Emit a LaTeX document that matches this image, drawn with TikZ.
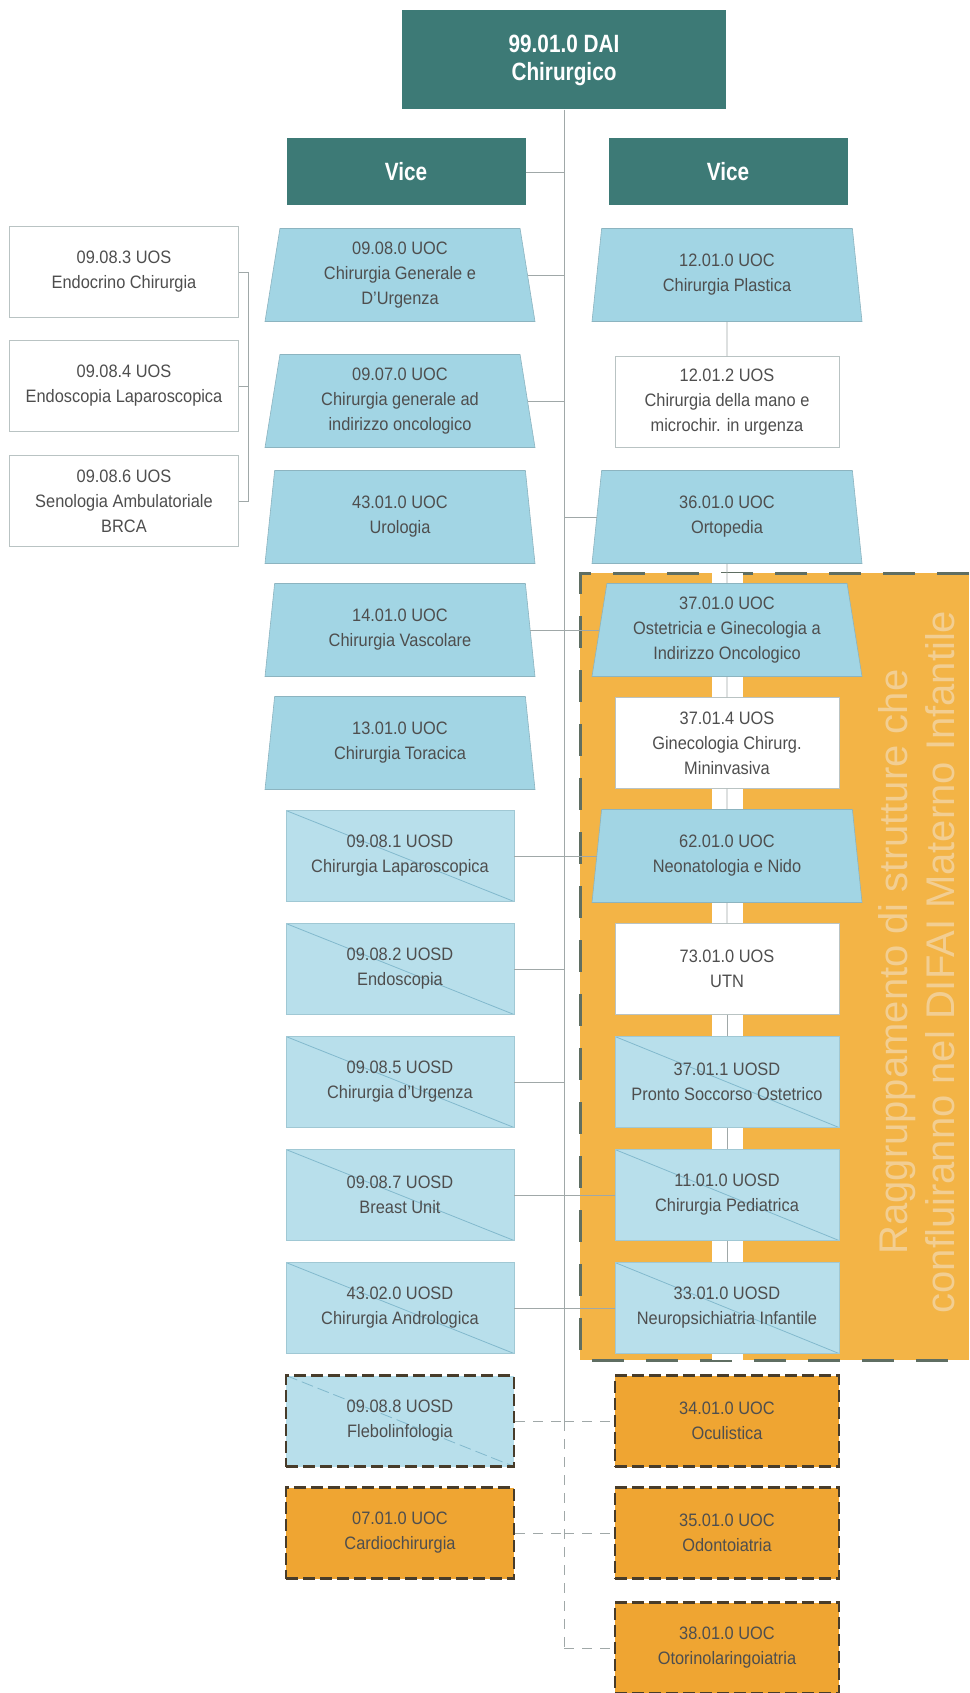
\documentclass[tikz,border=0pt]{standalone}
\usepackage{fontspec}
\setmainfont{Liberation Sans}[FakeStretch=0.91]
\newfontfamily\headfont{Liberation Sans}[FakeStretch=0.83]
\newfontfamily\bandfont{Liberation Sans}
\usetikzlibrary{shapes.geometric,positioning}

\definecolor{daiteal}{RGB}{61,122,118}
\definecolor{trapblue}{RGB}{162,213,228}
\definecolor{trapedge}{RGB}{140,180,192}
\definecolor{uosdblue}{RGB}{184,223,235}
\definecolor{uosdedge}{RGB}{160,200,212}
\definecolor{diagblue}{RGB}{130,185,205}
\definecolor{uosedge}{RGB}{185,195,195}
\definecolor{boxtext}{RGB}{78,78,78}
\definecolor{newor}{RGB}{239,165,50}
\definecolor{dashbrown}{RGB}{72,60,42}
\definecolor{regionor}{RGB}{243,180,70}
\definecolor{regionedge}{RGB}{95,110,98}
\definecolor{bandcream}{RGB}{242,206,146}
\definecolor{linkgray}{RGB}{160,168,168}

\begin{document}
\begin{tikzpicture}[x=1pt,y=-1pt,
		every node/.style={font=\fontsize{18}{25}\selectfont, text=boxtext, align=center, inner sep=2pt},
		head/.style={fill=daiteal, text=white, font=\headfont\bfseries\fontsize{25}{28}\selectfont},
		uoc/.style={trapezium, trapezium angle=78, trapezium stretches body, minimum width=270pt, minimum height=93pt, fill=trapblue, draw=trapedge, line width=0.6pt},
		uos/.style={rectangle, fill=white, draw=uosedge, line width=0.8pt, minimum width=224pt, minimum height=91pt},
		uosd/.style={rectangle, fill=uosdblue, draw=uosdedge, line width=0.6pt, minimum width=228pt, minimum height=91pt,
			path picture={\draw[diagblue, line width=0.8pt] (path picture bounding box.north west) -- (path picture bounding box.south east);}},
		newbox/.style={draw=dashbrown, line width=2.5pt, dash pattern=on 12pt off 5pt},
		newuoc/.style={rectangle, fill=newor, newbox, minimum width=224pt, minimum height=91pt},
		link/.style={draw=linkgray, line width=0.9pt},
		dlink/.style={link, dash pattern=on 10pt off 8pt}]
	
	\fill[white] (0,0) rectangle (969,1693);
	\useasboundingbox (0,0) rectangle (969,1693);
	
	% Materno Infantile group
	\fill[regionor] (580,573) rectangle (969,1360);
	\draw[regionedge, line width=3pt, dash pattern=on 32pt off 22pt] (969,573) -- (580,573) -- (580,1360) -- (969,1360);
	\fill[white] (712,573) rectangle (743,1360);
	\node[rotate=90, font=\bandfont\fontsize{40}{47}\selectfont, text=bandcream] (band) at (917,962)
		{Raggruppamento di strutture che\\confluiranno nel DIFAI Materno Infantile};
	
	% Direzione
	\node[head, minimum width=324pt, minimum height=99pt] (dai) at (564,60) {99.01.0 DAI\\Chirurgico};
	\node[head, minimum width=239pt, minimum height=67pt] (viceL) at (406,172) {Vice};
	\node[head, minimum width=239pt, minimum height=67pt] (viceR) at (728,172) {Vice};
	
	% Left column
	\foreach \n/\y/\txt in {l1/275/{09.08.0 UOC\\Chirurgia Generale e\\D'Urgenza},
		l2/401/{09.07.0 UOC\\Chirurgia generale ad\\indirizzo oncologico},
		l3/517/{43.01.0 UOC\\Urologia},
		l4/630/{14.01.0 UOC\\Chirurgia Vascolare},
		l5/743/{13.01.0 UOC\\Chirurgia Toracica}}
	\node[uoc] (\n) at (400,\y) {\txt};
	\foreach \n/\y/\txt in {l6/856/{09.08.1 UOSD\\Chirurgia Laparoscopica},
		l7/969/{09.08.2 UOSD\\Endoscopia},
		l8/1082/{09.08.5 UOSD\\Chirurgia d'Urgenza},
		l9/1195/{09.08.7 UOSD\\Breast Unit},
		l10/1308/{43.02.0 UOSD\\Chirurgia Andrologica}}
	\node[uosd] (\n) at (400,\y) {\txt};
	\node[uosd, newbox] (l11) at (400,1421) {09.08.8 UOSD\\Flebolinfologia};
	\node[newuoc, minimum width=228pt] (l12) at (400,1533) {07.01.0 UOC\\Cardiochirurgia};
	
	% UOS of 09.08.0
	\foreach \n/\y/\txt in {s1/272/{09.08.3 UOS\\Endocrino Chirurgia},
		s2/386/{09.08.4 UOS\\Endoscopia Laparoscopica},
		s3/501/{09.08.6 UOS\\Senologia Ambulatoriale\\BRCA}}
	\node[uos, minimum width=229pt] (\n) at (124,\y) {\txt};
	\draw[link] (s1.east) -- ++(10,0) coordinate (brk) |- (s3.east);
	\draw[link] (s2.east) -- (s2.east -| brk);
	
	% Right column
	\node[uoc] (r1) at (727,275) {12.01.0 UOC\\Chirurgia Plastica};
	\node[uos] (r2) at (727,402) {12.01.2 UOS\\Chirurgia della mano e\\microchir. in urgenza};
	\node[uoc] (r3) at (727,517) {36.01.0 UOC\\Ortopedia};
	\node[uoc] (r4) at (727,630) {37.01.0 UOC\\Ostetricia e Ginecologia a\\Indirizzo Oncologico};
	\node[uos] (r5) at (727,743) {37.01.4 UOS\\Ginecologia Chirurg.\\Mininvasiva};
	\node[uoc] (r6) at (727,856) {62.01.0 UOC\\Neonatologia e Nido};
	\node[uos] (r7) at (727,969) {73.01.0 UOS\\UTN};
	\foreach \n/\y/\txt in {r8/1082/{37.01.1 UOSD\\Pronto Soccorso Ostetrico},
		r9/1195/{11.01.0 UOSD\\Chirurgia Pediatrica},
		r10/1308/{33.01.0 UOSD\\Neuropsichiatria Infantile}}
	\node[uosd, minimum width=224pt] (\n) at (727,\y) {\txt};
	\foreach \n/\y/\txt in {r11/1421/{34.01.0 UOC\\Oculistica},
		r12/1533/{35.01.0 UOC\\Odontoiatria},
		r13/1648/{38.01.0 UOC\\Otorinolaringoiatria}}
	\node[newuoc] (\n) at (727,\y) {\txt};
	
	% Connectors
	\draw[link] (dai.south) -- (dai.south |- l11.east);
	\draw[dlink] (dai.south |- l11.east) -- (dai.south |- r13.west);
	\draw[link] (viceL.east) -- (viceL.east -| dai.south);
	\foreach \n in {l1,l2,l4,l6,l7,l8,l9,l10}
	\draw[link] (\n.east) -- (\n.east -| dai.south);
	\foreach \n in {r3,r4,r6,r9,r10}
	\draw[link] (\n.west -| dai.south) -- (\n.west);
	\foreach \n in {l11,l12}
	\draw[dlink] (\n.east) -- (\n.east -| dai.south);
	\foreach \n in {r11,r12,r13}
	\draw[dlink] (\n.west -| dai.south) -- (\n.west);
	\draw[link] (r1.south) -- (r2.north);
	\foreach \a/\b in {r3/r4,r4/r5,r5/r6,r6/r7,r7/r8,r8/r9,r9/r10}
	\draw[link] (\a.south) -- (\b.north);
	
\end{tikzpicture}
\end{document}
